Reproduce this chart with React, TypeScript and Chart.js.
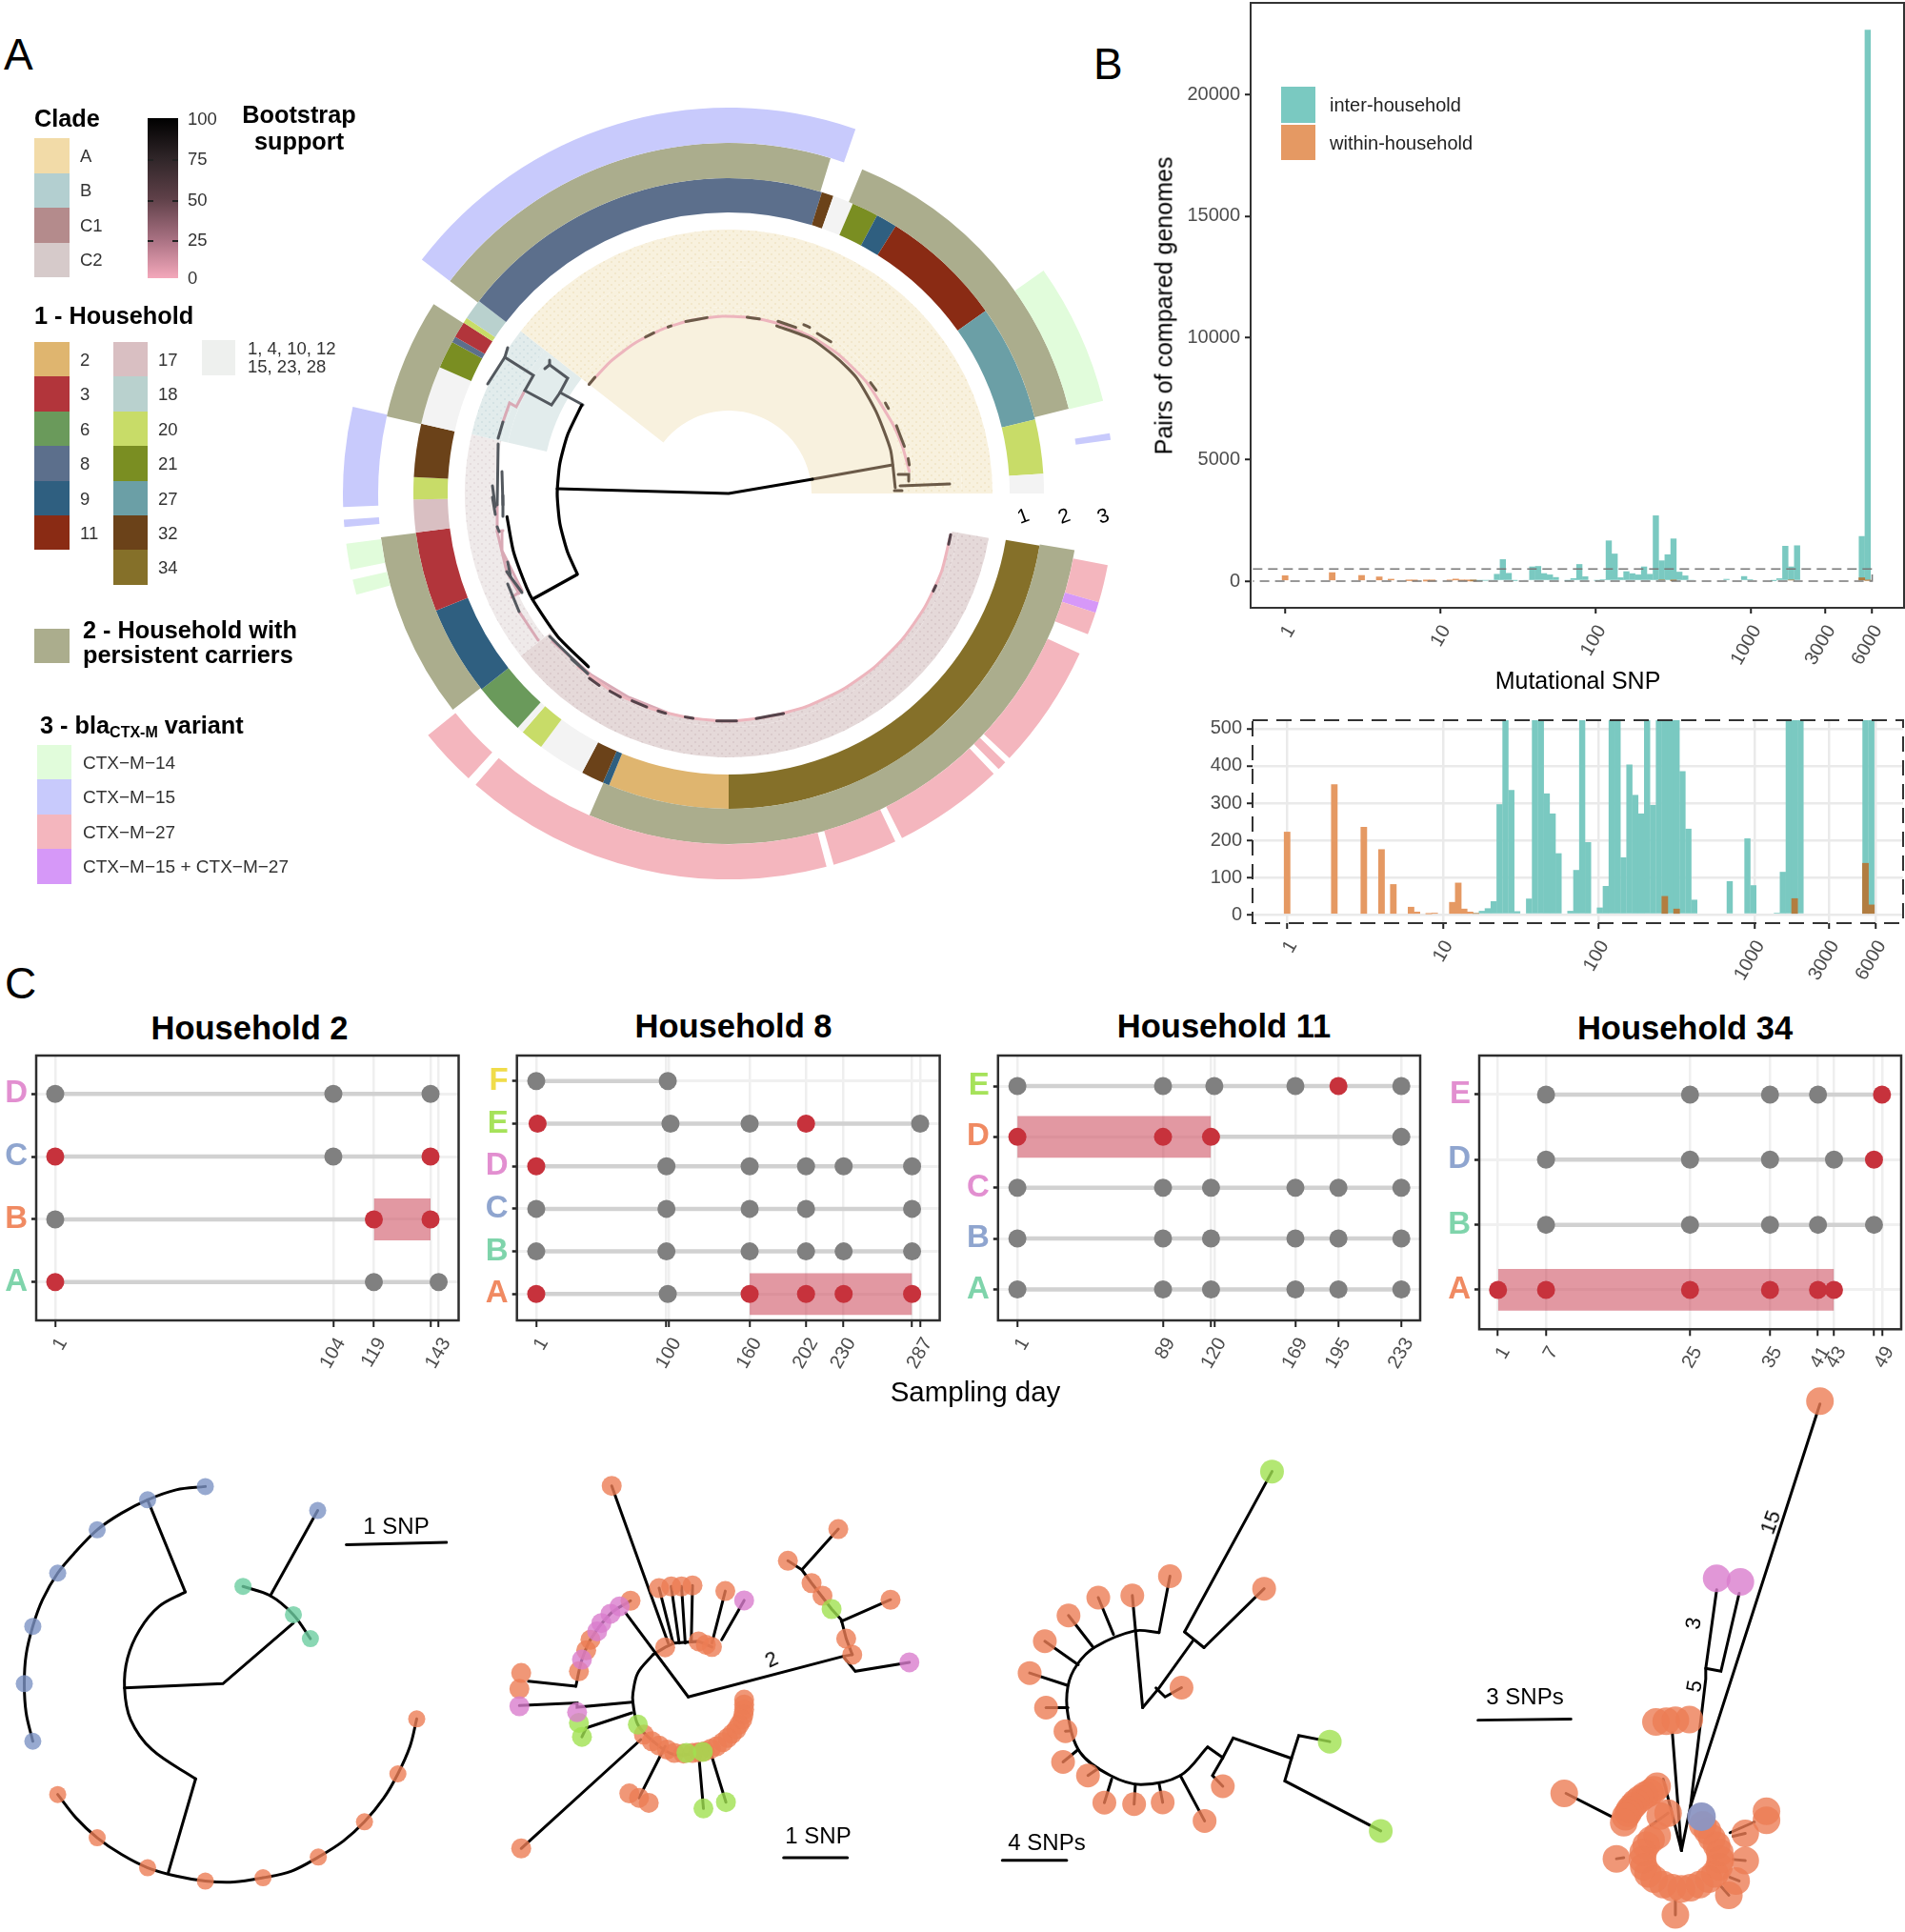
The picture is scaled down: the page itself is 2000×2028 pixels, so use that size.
import React, { useEffect, useRef } from 'react';
import { Chart, registerables } from 'chart.js';

Chart.register(...registerables);
const FONT = "'Liberation Sans', Arial, sans-serif";
Chart.defaults.font.family = FONT;

/* ---------- Panel A: ring edges (degrees clockwise from east) ---------- */
const variantEdges = [0, 10.7, 16.4, 18, 21.4, 24.5, 43.3, 44.2, 45.6, 46.6, 63.3, 64.4, 74.2, 75.3, 131, 132.4, 141.2, 164.8, 167.1, 168.6, 172.5, 175, 176.1, 178, 193, 217.3, 289.2, 324.7, 346.1, 351, 352, 360];
const variantLabels = ['', '27', 'mix', '27', '', '27', '', '27', '', '27', '', '27', '', '27', '', '27', '', '14', '', '14', '', '15', '', '15', '', '15', '', '14', '', '15', ''];
const persistentEdges = [0, 9.3, 113.4, 141.9, 172.8, 192.7, 212.7, 217.3, 286.9, 292.4, 346, 360];
const persistentLabels = ['', 'p', '', 'p', '', 'p', '', 'p', '', 'p', ''];
const householdEdges = [0, 9.5, 90, 112.3, 113.5, 117.7, 126.5, 130.8, 132, 141.6, 158.2, 172.9, 178.9, 183, 192.8, 203.6, 208.7, 209.8, 212.8, 213.8, 217.6, 287.2, 289.4, 293.2, 298.1, 302, 324.6, 346.4, 356.4, 360];
const householdLabels = ['', '34', '2', '9', '32', 'o', '20', 'o', '6', '9', '3', '17', '20', '32', 'o', '21', '8', '3', '20', '18', '8', '32', 'o', '21', '9', '11', '27', '20', 'o'];
const cladeEdges = [0, 9.7, 142, 193, 218, 360];
const cladeBand1 = ['', 'C1d', 'C2d', 'Bd', 'Ad'];
const cladeBand2 = ['', 'C1d', '', 'B', 'Ad'];
const cladeBand3 = ['', '', '', 'B', 'Ad'];
const cladeBand4 = ['', '', '', '', 'Ad'];
const cladeBand5 = ['', '', '', '', 'A'];

const householdColors: Record<string, string> = { '2': '#DFB56F', '3': '#B2353B', '6': '#6A9A5B', '8': '#5C6F8C', '9': '#2F5F80', '11': '#8A2B14', '17': '#D9BFC2', '18': '#B9D1CE', '20': '#C8DC68', '21': '#7A8E22', '27': '#6B9FA6', '32': '#6B4219', '34': '#857029', o: '#F3F3F3' };
const variantColors: Record<string, string> = { '14': '#E1FCDB', '15': '#C8CAFC', '27': '#F4B6BE', mix: '#D698F8' };

/* ---------- Panel A: legends ---------- */
const cladeLegend = [['A', '#F2DBA8'], ['B', '#B3CFD0'], ['C1', '#B48B8C'], ['C2', '#D6CACA']];
const householdLegendA = ['2', '3', '6', '8', '9', '11'];
const householdLegendB = ['17', '18', '20', '21', '27', '32', '34'];
const variantLegend = [['CTX\u2212M\u221214', '#E1FCDB'], ['CTX\u2212M\u221215', '#C8CAFC'], ['CTX\u2212M\u221227', '#F4B6BE'], ['CTX\u2212M\u221215 + CTX\u2212M\u221227', '#D698F8']];
const bootstrapTicks = ['100', '75', '50', '25', '0'];

/* ---------- Panel A: tree, polar [degree, radius] ---------- */
const treeBlackPolar = [
  [[211, 180], [200, 180], [190, 180], [180, 180], [170, 180], [160, 180], [152, 180]],
  [[174, 234], [165, 234], [155, 234], [151, 234], [140, 234], [129, 234]],
];
const treePinkPolar = [
  [[218, 186], [228, 186], [238, 186], [248, 186], [258, 186], [268, 186], [278, 186], [288, 186], [298, 186], [308, 186], [321, 186], [337, 187], [345, 189], [353, 191]],
  [[131, 241], [120, 241], [110, 240], [100, 239], [90, 239], [80, 238], [70, 238], [60, 238], [50, 238], [40, 238], [30, 238], [20, 238], [10.5, 237]],
];
const treeBrownPolar = [
  [[286, 183], [298, 184], [309, 182], [318, 181], [331, 177], [345, 176], [358, 175]],
  [[218, 186], [221, 186]], [[242, 186], [245, 186]], [[250, 186], [251, 186]], [[256, 186], [263, 186]], [[276, 186], [280, 186]],
  [[286, 188], [292, 188]], [[294, 194], [296, 194]], [[299, 192], [304, 192]], [[322, 189], [325, 189]], [[330, 190], [332, 190]], [[338, 190], [345, 191]], [[349, 192], [351, 192]],
];
const treePurplePolar = [
  [[127, 243], [124, 243]], [[121, 242], [118, 242]], [[115, 240], [111, 240]], [[108, 240], [106, 240]], [[101, 239], [99, 239]], [[93, 239], [88, 239]], [[83, 238], [76, 238]], [[25.5, 238], [24, 238]], [[13, 237], [10.5, 237]],
];
/* ---------- Panel A: tree, reference-scale [x, y] ---------- */
const treeBlackXY = [[[585, 513], [765, 518], [853, 503]], [[606, 603], [559, 629]]];
const treeBrownXY = [[[853, 503], [937, 488]], [[945, 510], [997, 508]], [[943, 498], [954, 498], [954, 505]], [[939, 515], [947, 515]]];
const treeSlateXY = [
  [[612, 425], [588, 412], [596, 397], [577, 383], [577, 378]],
  [[577, 383], [572, 387]],
  [[588, 412], [579, 425], [551, 410], [560, 394], [530, 375], [533, 365]],
  [[530, 375], [512, 403]],
  [[528, 443], [523, 460]],
  [[523, 466], [522, 530]],
  [[527, 495], [528, 530]],
  [[517, 510], [520, 532]],
  [[517, 522], [520, 540]],
  [[528, 520], [528, 542]],
  [[522, 553], [524, 558]],
  [[533, 613], [545, 642]],
  [[532, 600], [548, 622]],
  [[533, 590], [536, 605]],
  [[577, 668], [617, 707]],
  [[600, 692], [617, 707]],
];
const treePaleXY = [
  [[551, 410], [542, 427], [535, 423], [528, 443]],
  [[522, 530], [522, 558], [532, 600], [545, 623]],
  [[545, 642], [565, 672]],
  [[527, 558], [527, 578], [548, 620]],
  [[522, 558], [528, 557]],
  [[548, 620], [537, 627]],
  [[580, 673], [620, 708], [660, 732], [700, 748]],
];

/* ---------- Panel B ---------- */
const binStep = 0.03787;
const interHousehold = [
  0, 0, 0, 0, 0, 0, 0, 0, 0, 0,
  0, 0, 0, 0, 0, 0, 0, 0, 0, 0,
  0, 0, 0, 0, 0, 0, 0, 0, 0, 0,
  0, 0, 4, 10, 17, 36, 297, 900, 335, 9,
  0, 43, 600, 620, 326, 272, 165, 0, 10, 120,
  700, 195, 0, 19, 77, 1670, 1130, 154, 404, 322,
  272, 600, 295, 2700, 850, 1100, 1750, 386, 231, 40,
  0, 0, 0, 0, 0, 90, 0, 0, 205, 79,
  0, 0, 0, 5, 115, 1450, 600, 1470, 0, 0,
  0, 0, 0, 0, 0, 0, 0, 0, 1850, 22650,
];
const withinHousehold = [
  222, 0, 0, 0, 0, 0, 0, 0, 350, 0,
  0, 0, 0, 235, 0, 0, 175, 0, 81, 0,
  0, 20, 7, 0, 2, 4, 0, 0, 33, 85,
  15, 7, 3, 0, 0, 0, 0, 0, 0, 0,
  0, 0, 0, 0, 0, 0, 0, 0, 0, 0,
  0, 0, 0, 0, 0, 0, 0, 0, 0, 0,
  0, 0, 0, 0, 49, 0, 15, 0, 0, 0,
  0, 0, 0, 0, 0, 0, 0, 0, 0, 0,
  0, 0, 0, 0, 0, 0, 43, 0, 0, 0,
  0, 0, 0, 0, 0, 0, 0, 0, 138, 26,
];
const snpTicks = [1, 10, 100, 1000, 3000, 6000];
const mainYTicks = [0, 5000, 10000, 15000, 20000];
const insetYTicks = [0, 100, 200, 300, 400, 500];

/* ---------- Panel C: [day, 1 = red] per row, bottom row first ---------- */
const h2Rows = ['A', 'B', 'C', 'D'];
const h2RowColors = ['#7FD4AB', '#F08A62', '#8FA5CF', '#E28FD0'];
const h2Ticks = [1, 104, 119, 140, 143];
const h2Unlabelled = [140];
const h2Samples = [
  [[1, 1], [119, 0], [143, 0]],
  [[1, 0], [119, 1], [140, 1]],
  [[1, 1], [104, 0], [140, 1]],
  [[1, 0], [104, 0], [140, 0]],
];
const h2Span = [2, 119, 140, 0.333];

const h8Rows = ['A', 'B', 'C', 'D', 'E', 'F'];
const h8RowColors = ['#F08A62', '#7FD4AB', '#8FA5CF', '#E28FD0', '#A6E25A', '#F0DC4A'];
const h8Ticks = [1, 98, 100, 160, 202, 230, 281, 287];
const h8Unlabelled = [98, 281];
const h8Samples = [
  [[1, 1], [99, 0], [160, 1], [202, 1], [230, 1], [281, 1]],
  [[1, 0], [98, 0], [160, 0], [202, 0], [230, 0], [281, 0]],
  [[1, 0], [98, 0], [160, 0], [202, 0], [281, 0]],
  [[1, 1], [98, 0], [160, 0], [202, 0], [230, 0], [281, 0]],
  [[2, 1], [101, 0], [160, 0], [202, 1], [287, 0]],
  [[1, 0], [99, 0]],
];
const h8Span = [1, 160, 281, 0.49];

const h11Rows = ['A', 'B', 'C', 'D', 'E'];
const h11RowColors = ['#7FD4AB', '#8FA5CF', '#E28FD0', '#F08A62', '#A6E25A'];
const h11Ticks = [1, 89, 118, 120, 169, 195, 233];
const h11Unlabelled = [118];
const h11Samples = [
  [[1, 0], [89, 0], [118, 0], [169, 0], [195, 0], [233, 0]],
  [[1, 0], [89, 0], [118, 0], [169, 0], [195, 0], [233, 0]],
  [[1, 0], [89, 0], [118, 0], [169, 0], [195, 0], [233, 0]],
  [[1, 1], [89, 1], [118, 1], [233, 0]],
  [[1, 0], [89, 0], [120, 0], [169, 0], [195, 1], [233, 0]],
];
const h11Span = [4, 1, 118, 0.41];

const h34Rows = ['A', 'B', 'D', 'E'];
const h34RowColors = ['#F08A62', '#7FD4AB', '#8FA5CF', '#E28FD0'];
const h34Ticks = [1, 7, 25, 35, 41, 43, 48, 49];
const h34Unlabelled = [48];
const h34Samples = [
  [[1, 1], [7, 1], [25, 1], [35, 1], [41, 1], [43, 1]],
  [[7, 0], [25, 0], [35, 0], [41, 0], [48, 0]],
  [[7, 0], [25, 0], [35, 0], [43, 0], [48, 1]],
  [[7, 0], [25, 0], [35, 0], [41, 0], [49, 1]],
];
const h34Span = [1, 1, 43, 0.32];

/* ---------- Panel C networks: positions ---------- */
const ORANGE = 'rgba(236,125,85,0.8)';
const BLUE = 'rgba(125,148,196,0.8)';
const GREEN = 'rgba(108,205,160,0.8)';
const PINK = 'rgba(218,125,205,0.8)';
const LIME = 'rgba(160,225,80,0.8)';
const PERIWINKLE = 'rgba(140,150,195,0.95)';

const net1Blue = [[338, 230], [243, 270], [160, 360], [95, 490], [54, 650], [40, 822], [54, 995], [523, 302]];
const net1Green = [[400, 530], [483, 615], [511, 687]];
const net1Orange = [[686, 928], [655, 1093], [600, 1237], [524, 1343], [433, 1405], [338, 1415], [243, 1375], [160, 1285], [95, 1155]];
const net1Curves = [
  [[338, 230], [290, 240], [243, 270], [200, 310], [160, 360], [125, 425], [95, 490], [70, 570], [54, 650], [43, 735], [40, 822], [43, 910], [54, 995]],
  [[686, 928], [675, 1010], [655, 1093], [632, 1165], [600, 1237], [565, 1295], [524, 1343], [480, 1385], [433, 1405], [385, 1418], [338, 1415], [290, 1400], [243, 1375], [200, 1335], [160, 1285], [125, 1225], [95, 1155]],
  [[305, 547], [262, 590], [230, 660], [210, 745], [205, 835], [215, 930], [250, 1020], [322, 1108]],
  [[400, 530], [445, 558], [483, 615], [511, 687]],
];
const net1Edges = [
  [[305, 547], [243, 270]],
  [[322, 1108], [277, 1390]],
  [[205, 835], [367, 822], [483, 640]],
  [[445, 558], [523, 302]],
  [[570, 405], [735, 398]],
];

const net2Orange = [[1007, 228], [1380, 358], [1297, 453], [1336, 520], [1354, 558], [1466, 570], [1393, 687], [1403, 735], [1038, 573], [1085, 535], [1105, 530], [1122, 530], [1140, 527], [1194, 544], [1095, 713], [1150, 695], [1162, 705], [1172, 712], [953, 785], [965, 722], [972, 690], [858, 790], [855, 838], [1036, 1152], [1052, 1165], [1068, 1180], [858, 1317],
  [1225, 870], [1225, 885], [1225, 900], [1224, 915], [1222, 930], [1217, 945], [1212, 960], [1205, 973], [1198, 985], [1190, 998], [1180, 1010], [1170, 1018], [1160, 1025], [1150, 1028], [1140, 1030], [1125, 1032], [1110, 1030], [1098, 1020], [1085, 1008], [1073, 995], [1060, 975]];
const net2Lime = [[1369, 598], [1050, 945], [1130, 1030], [1157, 1027], [953, 940], [958, 982], [1158, 1197], [1195, 1178]];
const net2Pink = [[1497, 758], [1225, 572], [1020, 590], [1005, 612], [990, 640], [983, 665], [958, 750], [855, 890], [950, 908]];
const net2Curves = [
  [[1075, 735], [1050, 790], [1042, 850], [1042, 880], [1050, 945], [1075, 995], [1110, 1035], [1160, 1025]],
  [[1038, 573], [1005, 612], [972, 690], [958, 750], [953, 785], [948, 830]],
];
const net2Edges = [
  [[1133, 862], [1388, 740], [1403, 735]],
  [[1388, 740], [1408, 785], [1497, 758]],
  [[1133, 862], [1030, 610]],
  [[1297, 453], [1320, 480], [1336, 520], [1369, 598], [1385, 630], [1393, 687], [1403, 735]],
  [[1320, 480], [1380, 358]],
  [[1385, 635], [1466, 570]],
  [[948, 830], [870, 815]],
  [[1040, 878], [950, 893], [950, 880], [855, 888]],
  [[1040, 910], [965, 955], [958, 982]],
  [[1055, 990], [858, 1317]],
  [[1095, 1010], [1052, 1165]],
  [[1150, 1030], [1158, 1197]],
  [[1170, 1030], [1195, 1178]],
  [[1075, 735], [1095, 713], [1110, 700], [1150, 695], [1172, 712]],
  [[1108, 700], [1085, 535]], [[1118, 700], [1105, 530]], [[1128, 700], [1122, 530]], [[1138, 695], [1140, 527]],
  [[1100, 700], [1007, 228]],
  [[1172, 700], [1194, 544]],
  [[1188, 690], [1225, 572]],
  [[1290, 1345], [1395, 1345]],
];

const net3Orange = [[358, 572], [296, 626], [240, 632], [191, 682], [152, 754], [127, 843], [154, 940], [186, 1006], [182, 1092], [223, 1130], [250, 1206], [299, 1210], [346, 1205], [415, 1257], [445, 1160], [377, 884], [513, 607]];
const net3Lime = [[526, 279], [621, 1035], [705, 1285]];
const net3Curves = [
  [[340, 730], [300, 725], [235, 770], [205, 820], [190, 880], [190, 960], [210, 1065], [260, 1130], [310, 1155], [375, 1130], [420, 1050]],
];
const net3Edges = [
  [[340, 730], [358, 572]],
  [[313, 940], [296, 626]],
  [[265, 735], [240, 632]],
  [[232, 772], [191, 682]],
  [[207, 820], [152, 754]],
  [[190, 878], [127, 843]],
  [[190, 940], [154, 940]],
  [[195, 1005], [186, 1006]],
  [[205, 1060], [182, 1092]],
  [[240, 1110], [223, 1130]],
  [[262, 1140], [250, 1206]],
  [[301, 1155], [299, 1210]],
  [[340, 1152], [346, 1205]],
  [[375, 1130], [415, 1257]],
  [[313, 940], [340, 885], [397, 750]],
  [[382, 728], [414, 772]],
  [[382, 728], [526, 279]],
  [[414, 772], [513, 607]],
  [[335, 885], [350, 910], [377, 884]],
  [[420, 1050], [445, 1080], [462, 1025], [558, 1082], [570, 1018], [621, 1035]],
  [[558, 1082], [547, 1145], [705, 1285]],
  [[445, 1080], [428, 1130], [445, 1160]],
  [[82, 1367], [188, 1367]],
];

const net4Orange = [[1428, 82], [1158, 980], [1175, 978], [1190, 975], [1213, 973], [1007, 1180], [1093, 1363], [1190, 1520], [1278, 1465], [1290, 1425], [1305, 1368], [1305, 1292], [1340, 1255], [1340, 1230], [1178, 1235], [1165, 1243],
  [1160, 1298], [1150, 1310], [1142, 1325], [1137, 1345], [1136, 1365], [1138, 1385], [1145, 1405], [1155, 1420], [1170, 1435], [1185, 1444], [1200, 1447], [1215, 1444], [1230, 1435], [1245, 1420], [1255, 1405], [1262, 1385], [1264, 1365], [1263, 1345], [1258, 1325], [1250, 1305], [1243, 1285], [1235, 1268],
  [1160, 1160], [1155, 1170], [1148, 1178], [1140, 1185], [1132, 1195], [1125, 1205], [1120, 1215], [1115, 1225], [1112, 1235], [1108, 1245], [1105, 1262]];
const net4Pink = [[1258, 578], [1297, 588]];
const net4Blue = [[1233, 1245]];
const net4Edges = [
  [[1200, 1340], [1185, 1010]],
  [[1200, 1340], [1170, 1140]],
  [[1200, 1340], [1215, 1215], [1240, 860], [1240, 830], [1258, 610]],
  [[1240, 830], [1265, 838], [1295, 620]],
  [[1215, 1215], [1428, 90]],
  [[1085, 1245], [1010, 1180]],
  [[1280, 1290], [1320, 1260]],
  [[1285, 1300], [1305, 1292]],
  [[1285, 1365], [1305, 1368]],
  [[1280, 1415], [1295, 1425]],
  [[1265, 1440], [1278, 1465]],
  [[1190, 1480], [1190, 1520]],
  [[1105, 1360], [1093, 1363]],
  [[1150, 1270], [1178, 1235]],
  [[865, 975], [1018, 972]],
];

/* ---------- helpers ---------- */
const spans = (edges: number[]) => edges.slice(1).map((e, i) => e - edges[i]);

function dotted(bg: string, dot: string) {
  const t = document.createElement('canvas');
  t.width = 8;
  t.height = 8;
  const c = t.getContext('2d')!;
  c.fillStyle = bg;
  c.fillRect(0, 0, 8, 8);
  c.fillStyle = dot;
  [[2, 2], [6, 6]].forEach(([a, b]) => {
    c.beginPath();
    c.arc(a, b, 0.8, 0, Math.PI * 2);
    c.fill();
  });
  return c.createPattern(t, 'repeat')!;
}

const frame = (color: string, width: number, dash: number[] = []) => ({
  id: 'frame',
  afterDatasetsDraw(chart: any) {
    const { ctx, chartArea: a } = chart;
    ctx.save();
    ctx.strokeStyle = color;
    ctx.lineWidth = width;
    ctx.setLineDash(dash);
    ctx.strokeRect(a.left, a.top, a.right - a.left, a.bottom - a.top);
    ctx.restore();
  },
});

const baseOptions = {
  responsive: false,
  animation: false,
  devicePixelRatio: 1,
  events: [] as string[],
  plugins: { legend: { display: false }, tooltip: { enabled: false } },
};
const flatLayout = { autoPadding: false, padding: 0 };

const fitX = (h: number) => (s: any) => {
  s.height = h;
  s.paddingLeft = 0;
  s.paddingRight = 0;
};
const fitY = (w: number) => (s: any) => {
  s.width = w;
  s.paddingTop = 0;
  s.paddingBottom = 0;
};

function ChartBox({ x, y, w, h, make }: { x: number; y: number; w: number; h: number; make: () => any }) {
  const ref = useRef<HTMLCanvasElement>(null);
  useEffect(() => {
    const chart = new Chart(ref.current!, make());
    return () => chart.destroy();
  }, []);
  return <canvas ref={ref} width={w} height={h} style={{ position: 'absolute', left: x, top: y, width: w, height: h }} />;
}

function T({ x, y, s = 18, b = false, c = '#000', r = 0, center = false, children }: any) {
  return (
    <div style={{ position: 'absolute', left: x, top: y, fontFamily: FONT, fontSize: s, fontWeight: b ? 700 : 400, color: c, whiteSpace: 'nowrap', lineHeight: 1, transform: `translate(${center ? '-50%' : '0'},-50%) rotate(${r}deg)` }}>
      {children}
    </div>
  );
}

function Swatch({ x, y, w, h, c }: any) {
  return <div style={{ position: 'absolute', left: x, top: y, width: w, height: h, background: c }} />;
}

/* ---------- charts ---------- */
function ringsConfig() {
  const cladeFill: Record<string, any> = {
    '': 'rgba(0,0,0,0)',
    A: '#F8F1DE',
    B: '#E2ECEC',
    Ad: dotted('#F8F1DE', '#EADBB4'),
    Bd: dotted('#E2ECEC', '#C2D7DA'),
    C2d: dotted('#EFEAEA', '#D8CED0'),
    C1d: dotted('#E5D9D9', '#CDB9BB'),
  };
  const ring = (edges: number[], labels: string[], colors: any, weight: number) => ({
    data: spans(edges),
    backgroundColor: labels.map((l) => colors[l] ?? 'rgba(0,0,0,0)'),
    borderWidth: 0,
    weight,
  });
  return {
    type: 'doughnut',
    data: {
      labels: variantLabels,
      datasets: [
        ring(variantEdges, variantLabels, variantColors, 37),
        ring(persistentEdges, persistentLabels, { p: '#ABAD8D' }, 37),
        ring(householdEdges, householdLabels, householdColors, 36),
        ring([0, 360], [''], {}, 18),
        ring(cladeEdges, cladeBand1, cladeFill, 32),
        ring(cladeEdges, cladeBand2, cladeFill, 7),
        ring(cladeEdges, cladeBand3, cladeFill, 42),
        ring(cladeEdges, cladeBand4, cladeFill, 11),
        ring(cladeEdges, cladeBand5, cladeFill, 98),
      ],
    },
    options: { ...baseOptions, rotation: 90, circumference: 360, cutout: 87, layout: flatLayout },
  };
}

const pts = (list: number[][]) => list.map(([x, y]) => ({ x, y }));
const polar = (list: number[][]) =>
  list.map(([deg, r]) => ({ x: 765 + r * Math.cos((deg * Math.PI) / 180), y: 518 + r * Math.sin((deg * Math.PI) / 180) }));
const lineDs = (data: any[], color: string, width: number, tension = 0, order = 2) => ({
  data,
  showLine: true,
  borderColor: color,
  borderWidth: width,
  borderCapStyle: 'round',
  borderJoinStyle: 'miter',
  pointRadius: 0,
  tension,
  order,
  clip: false,
});
const nodeDs = (list: number[][], color: string, r: number) => ({
  data: pts(list),
  showLine: false,
  pointRadius: r,
  pointBackgroundColor: color,
  pointBorderWidth: 0,
  order: 1,
  clip: false,
});
const hiddenScales = (xMax: number, yMax: number) => ({
  x: { type: 'linear', display: false, min: 0, max: xMax },
  y: { type: 'linear', display: false, min: 0, max: yMax, reverse: true },
});

function treeConfig() {
  return {
    type: 'scatter',
    data: {
      datasets: [
        ...treePinkPolar.map((a) => lineDs(polar(a), '#EDB5BD', 3, 0.2, 5)),
        ...treePaleXY.map((a) => lineDs(pts(a), '#D9A9B5', 3, 0, 5)),
        ...treeBrownPolar.map((a) => lineDs(polar(a), '#6B5A48', 3, 0.2, 4)),
        ...treeBrownXY.map((a) => lineDs(pts(a), '#6B5A48', 3, 0, 4)),
        ...treePurplePolar.map((a) => lineDs(polar(a), '#54434A', 3, 0.2, 4)),
        ...treeSlateXY.map((a) => lineDs(pts(a), '#53585E', 3, 0, 4)),
        ...treeBlackPolar.map((a) => lineDs(polar(a), '#000', 3.2, 0.2, 3)),
        ...treeBlackXY.map((a) => lineDs(pts(a), '#000', 3.2, 0, 3)),
      ],
    },
    options: { ...baseOptions, layout: flatLayout, scales: hiddenScales(1200, 1000) },
  };
}

const binX = (i: number) => Math.pow(10, i * binStep);
const binPoints = (values: number[]) => values.map((y, i) => ({ x: binX(i), y, bin: i })).filter((p) => p.y > 0);
const orangeBar = (ctx: any) => (interHousehold[ctx.raw.bin] > 0 ? '#B27D40' : '#E59963');

function barDatasets() {
  return [
    { type: 'bar', data: binPoints(withinHousehold), backgroundColor: orangeBar, grouped: false, barPercentage: 1, categoryPercentage: 1, borderWidth: 0, order: 2 },
    { type: 'bar', data: binPoints(interHousehold), backgroundColor: '#7AC9C1', grouped: false, barPercentage: 1.04, categoryPercentage: 1, borderWidth: 0, order: 3 },
  ];
}

function histogramConfig(opts: any) {
  const { L, B, T: top, R, xMin, xMax, yMin, yMax, yTicks, inset } = opts;
  const datasets: any[] = barDatasets();
  if (!inset) {
    datasets.push({
      type: 'line',
      data: [{ x: 0.62, y: 500 }, { x: 6000, y: 500 }, { x: 6000, y: 0 }, { x: 0.62, y: 0 }],
      borderColor: '#777',
      borderWidth: 1.5,
      borderDash: [10, 6],
      pointRadius: 0,
      order: 1,
    });
  }
  const gridColor = inset ? '#EAEAEA' : 'rgba(0,0,0,0)';
  return {
    type: 'bar',
    data: { datasets },
    plugins: [inset ? frame('#333', 2, [16, 9]) : frame('#333', 2)],
    options: {
      ...baseOptions,
      layout: { autoPadding: false, padding: { top, right: R, left: 0, bottom: 0 } },
      scales: {
        x: {
          type: 'logarithmic',
          offset: false,
          min: xMin,
          max: xMax,
          afterBuildTicks: (s: any) => { s.ticks = snpTicks.map((value) => ({ value })); },
          afterFit: fitX(B),
          border: { display: false },
          grid: { offset: false, color: gridColor, lineWidth: 2.5, tickColor: '#222', tickLength: 6, tickWidth: 2 },
          ticks: { autoSkip: false, minRotation: 60, maxRotation: 60, padding: 8, labelOffset: 6, color: '#4D4D4D', font: { size: 20 }, callback: (v: number) => String(v) },
        },
        y: {
          type: 'linear',
          min: yMin,
          max: yMax,
          afterBuildTicks: (s: any) => { s.ticks = yTicks.map((value: number) => ({ value })); },
          afterFit: fitY(L),
          border: { display: false },
          grid: { color: gridColor, lineWidth: 2.5, tickColor: '#222', tickLength: 6, tickWidth: 2 },
          ticks: { padding: 5, color: '#4D4D4D', font: { size: 20 }, callback: (v: number) => String(v) },
        },
      },
    },
  };
}

function householdConfig(o: any) {
  const { samples, rows, rowColors, ticks, unlabelled, span, xMin, xMax, yMin, yMax, L, B, T: top, R } = o;
  const [spanRow, spanFrom, spanTo, spanHalf] = span;
  const datasets: any[] = [];
  samples.forEach((row: number[][], i: number) => {
    const y = i + 1;
    const first = row[0][0];
    const last = row[row.length - 1][0];
    const parts = y === spanRow ? [[first, spanFrom], [spanTo, last]] : [[first, last]];
    parts.forEach(([a, b]) => {
      if (b > a) datasets.push(lineDs([{ x: a, y }, { x: b, y }], '#D1D1D1', 4.5, 0, 4));
    });
    datasets.push({
      data: row.map(([x]) => ({ x, y })),
      showLine: false,
      pointRadius: 9.5,
      pointBorderWidth: 0,
      pointBackgroundColor: row.map(([, red]) => (red ? '#C7323C' : '#808080')),
      order: 1,
      clip: false,
    });
  });
  datasets.push({
    data: [{ x: spanFrom, y: spanRow + spanHalf }, { x: spanTo, y: spanRow + spanHalf }],
    showLine: true,
    pointRadius: 0,
    borderWidth: 0,
    backgroundColor: 'rgba(198,50,70,0.5)',
    fill: { value: spanRow - spanHalf },
    order: 3,
  });
  return {
    type: 'scatter',
    data: { datasets },
    plugins: [frame('#2E2E2E', 2.5)],
    options: {
      ...baseOptions,
      layout: { autoPadding: false, padding: { top, right: R, left: 0, bottom: 0 } },
      scales: {
        x: {
          type: 'linear',
          min: xMin,
          max: xMax,
          afterBuildTicks: (s: any) => { s.ticks = ticks.map((value: number) => ({ value })); },
          afterFit: fitX(B),
          border: { display: false },
          grid: { color: '#EFEFEF', lineWidth: 2.5, tickColor: '#222', tickLength: 7, tickWidth: 2 },
          ticks: { autoSkip: false, minRotation: 60, maxRotation: 60, padding: 7, labelOffset: 8, color: '#4D4D4D', font: { size: 20 }, callback: (v: number) => (unlabelled.includes(v) ? '' : String(v)) },
        },
        y: {
          type: 'linear',
          min: yMin,
          max: yMax,
          afterBuildTicks: (s: any) => { s.ticks = rows.map((_: string, i: number) => ({ value: i + 1 })); },
          afterFit: fitY(L),
          border: { display: false },
          grid: { color: '#F0F0F0', lineWidth: 3, tickColor: '#222', tickLength: 5, tickWidth: 2.5 },
          ticks: {
            autoSkip: false,
            padding: 4,
            font: { size: 33, weight: 'bold' },
            color: (c: any) => rowColors[c.tick.value - 1],
            callback: (v: number) => rows[v - 1] ?? '',
          },
        },
      },
    },
  };
}

function networkConfig(edges: number[][][], curves: number[][][], nodes: any[], xMax = 1568, yMax = 1568) {
  return {
    type: 'scatter',
    data: {
      datasets: [
        ...nodes,
        ...curves.map((c) => lineDs(pts(c), '#000', 3, 0.35)),
        ...edges.map((c) => lineDs(pts(c), '#000', 3, 0)),
      ],
    },
    options: { ...baseOptions, layout: flatLayout, scales: hiddenScales(xMax, yMax) },
  };
}

/* ---------- layout ---------- */
export default function App() {
  const rowH = 36.4;
  return (
    <div style={{ position: 'absolute', left: 0, top: 0, width: 2000, height: 2028, overflow: 'hidden', background: '#fff' }}>
      <T x={4} y={57} s={46}>A</T>
      <T x={1148} y={67} s={46}>B</T>
      <T x={5} y={1032} s={46}>C</T>

      {/* Panel A rings and tree */}
      <ChartBox x={360} y={113} w={810} h={810} make={ringsConfig} />
      <ChartBox x={0} y={0} w={1200} h={1000} make={treeConfig} />
      <T x={1074} y={541} s={21} r={-20} center>1</T>
      <T x={1117} y={541} s={21} r={-20} center>2</T>
      <T x={1158} y={541} s={21} r={-20} center>3</T>

      {/* Panel A legends */}
      <T x={36} y={125} s={25.3} b>Clade</T>
      {cladeLegend.map(([l, c], i) => (
        <React.Fragment key={l}>
          <Swatch x={36} y={145.4 + i * rowH} w={36.7} h={rowH} c={c} />
          <T x={84} y={164 + i * rowH} s={18.5} c="#333">{l}</T>
        </React.Fragment>
      ))}
      <div style={{ position: 'absolute', left: 154.5, top: 124, width: 32, height: 168, background: 'linear-gradient(to bottom,#000 0%,#2F2528 25%,#5E4048 50%,#A66F80 75%,#F4A8BB 100%)' }} />
      {[167, 210, 252].map((y) => (
        <React.Fragment key={y}>
          <Swatch x={154.5} y={y} w={6} h={1.5} c="#222" />
          <Swatch x={180.5} y={y} w={6} h={1.5} c="#222" />
        </React.Fragment>
      ))}
      {bootstrapTicks.map((t, i) => (
        <T key={t} x={197} y={[125, 167, 210, 252, 292][i]} s={18.5} c="#333">{t}</T>
      ))}
      <T x={314} y={121} s={25.3} b center>Bootstrap</T>
      <T x={314} y={149} s={25.3} b center>support</T>

      <T x={36} y={332} s={25.3} b>1 - Household</T>
      {householdLegendA.map((l, i) => (
        <React.Fragment key={l}>
          <Swatch x={36} y={359 + i * rowH} w={36.7} h={rowH} c={householdColors[l]} />
          <T x={84} y={378 + i * rowH} s={18.5} c="#333">{l}</T>
        </React.Fragment>
      ))}
      {householdLegendB.map((l, i) => (
        <React.Fragment key={l}>
          <Swatch x={118.6} y={359 + i * rowH} w={36.7} h={rowH} c={householdColors[l]} />
          <T x={166} y={378 + i * rowH} s={18.5} c="#333">{l}</T>
        </React.Fragment>
      ))}
      <Swatch x={212} y={357} w={35} h={36.5} c="#EEF0EE" />
      <T x={260} y={366} s={18.5} c="#333">1, 4, 10, 12</T>
      <T x={260} y={385} s={18.5} c="#333">15, 23, 28</T>

      <Swatch x={36} y={660} w={36.7} h={36.4} c="#ABAD8D" />
      <T x={87} y={662} s={25.3} b>2 - Household with</T>
      <T x={87} y={688} s={25.3} b>persistent carriers</T>

      <T x={42} y={762} s={25.3} b>
        3 - bla<span style={{ fontSize: 16, position: 'relative', top: 4 }}>CTX-M</span> variant
      </T>
      {variantLegend.map(([l, c], i) => (
        <React.Fragment key={l}>
          <Swatch x={39} y={782 + i * rowH} w={36} h={rowH} c={c} />
          <T x={87} y={800 + i * rowH} s={19} c="#333">{l}</T>
        </React.Fragment>
      ))}

      {/* Panel B */}
      <ChartBox x={1213} y={0} w={787} h={720} make={() => histogramConfig({ L: 100, B: 82, T: 3, R: 1, xMin: 0.62, xMax: 9616, yMin: -1095, yMax: 23760, yTicks: mainYTicks })} />
      <ChartBox x={1255} y={752} w={745} h={290} make={() => histogramConfig({ L: 60, B: 73, T: 4, R: 2, xMin: 0.624, xMax: 8970, yMin: -23, yMax: 523, yTicks: insetYTicks, inset: true })} />
      <T x={1222} y={321} s={25} r={-90} center>Pairs of compared genomes</T>
      <T x={1656.5} y={714} s={25} center>Mutational SNP</T>
      <Swatch x={1345} y={91} w={36} h={38} c="#7AC9C1" />
      <Swatch x={1345} y={131} w={36} h={37} c="#E59963" />
      <T x={1396} y={110} s={20} c="#222">inter-household</T>
      <T x={1396} y={150} s={20} c="#222">within-household</T>

      {/* Panel C timelines */}
      <T x={262} y={1079} s={34.5} b center>Household 2</T>
      <T x={770} y={1077} s={34.5} b center>Household 8</T>
      <T x={1285} y={1077} s={34.5} b center>Household 11</T>
      <T x={1769} y={1079} s={34.5} b center>Household 34</T>
      <ChartBox x={0} y={1104} w={486} h={362} make={() => householdConfig({ samples: h2Samples, rows: h2Rows, rowColors: h2RowColors, ticks: h2Ticks, unlabelled: h2Unlabelled, span: h2Span, xMin: -6.05, xMax: 150.4, yMin: 0.39, yMax: 4.61, L: 38, B: 80, T: 4, R: 4.5 })} />
      <ChartBox x={505} y={1104} w={486} h={362} make={() => householdConfig({ samples: h8Samples, rows: h8Rows, rowColors: h8RowColors, ticks: h8Ticks, unlabelled: h8Unlabelled, span: h8Span, xMin: -13.4, xMax: 301.6, yMin: 0.38, yMax: 6.6, L: 37.7, B: 80, T: 4, R: 4.4 })} />
      <ChartBox x={1010} y={1104} w={486} h={362} make={() => householdConfig({ samples: h11Samples, rows: h11Rows, rowColors: h11RowColors, ticks: h11Ticks, unlabelled: h11Unlabelled, span: h11Span, xMin: -10.7, xMax: 244.4, yMin: 0.39, yMax: 5.6, L: 37.8, B: 80, T: 4, R: 5 })} />
      <ChartBox x={1515} y={1104} w={485} h={370} make={() => householdConfig({ samples: h34Samples, rows: h34Rows, rowColors: h34RowColors, ticks: h34Ticks, unlabelled: h34Unlabelled, span: h34Span, xMin: -1.35, xMax: 51.4, yMin: 0.395, yMax: 4.6, L: 38, B: 78.7, T: 4, R: 4 })} />
      <T x={1024} y={1461} s={29.5} center>Sampling day</T>

      {/* Panel C networks */}
      <ChartBox x={0} y={1480} w={1000} h={548} make={() => networkConfig(
        [...net1Edges, ...net2Edges],
        [...net1Curves, ...net2Curves],
        [
          nodeDs(net1Blue, BLUE, 9), nodeDs(net1Green, GREEN, 9), nodeDs(net1Orange, ORANGE, 9),
          nodeDs(net2Pink, PINK, 10.5), nodeDs(net2Lime, LIME, 10.5), nodeDs(net2Orange, ORANGE, 10.5),
        ],
      )} />
      <ChartBox x={1000} y={1440} w={1000} h={588} make={() => networkConfig(
        [...net3Edges, ...net4Edges],
        net3Curves,
        [
          nodeDs(net3Lime, LIME, 12.5), nodeDs(net3Orange, ORANGE, 12.5),
          nodeDs(net4Blue, PERIWINKLE, 15), nodeDs(net4Pink, PINK, 14.5), nodeDs(net4Orange, ORANGE, 14.5),
        ],
      )} />
      <T x={416} y={1602} s={24} center>1 SNP</T>
      <T x={859} y={1927} s={24} center>1 SNP</T>
      <T x={1099} y={1934} s={24} center>4 SNPs</T>
      <T x={1601} y={1781} s={24} center>3 SNPs</T>
      <T x={810} y={1742} s={22} r={-25} center>2</T>
      <T x={1859} y={1598} s={22} r={-70} center>15</T>
      <T x={1778} y={1704} s={22} r={-80} center>3</T>
      <T x={1779} y={1770} s={22} r={-80} center>5</T>
    </div>
  );
}
